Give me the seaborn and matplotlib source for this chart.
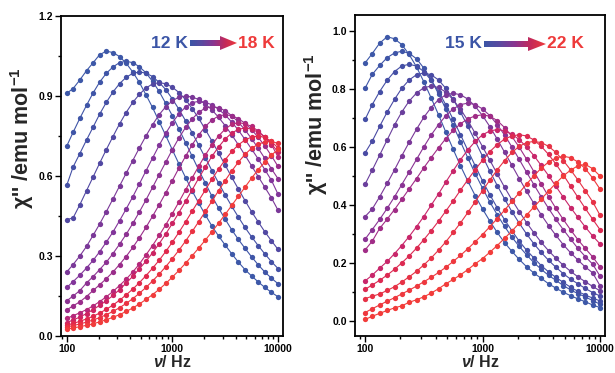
import numpy as np
import pandas as pd
import matplotlib
matplotlib.use("Agg")
import matplotlib.pyplot as plt
import seaborn as sns
from matplotlib.ticker import FixedLocator, FixedFormatter, MultipleLocator, LogLocator, NullFormatter, FormatStrFormatter
from matplotlib.patches import Polygon
from matplotlib.colors import LinearSegmentedColormap

sns.set_style("ticks")
plt.rcParams['font.family'] = ['Liberation Sans', 'DejaVu Sans']
plt.rcParams['font.weight'] = 'bold'
plt.rcParams['axes.labelweight'] = 'bold'
plt.rcParams['mathtext.fontset'] = 'custom'
plt.rcParams['mathtext.rm'] = 'Liberation Sans:bold'
plt.rcParams['mathtext.bf'] = 'Liberation Sans:bold'
plt.rcParams['mathtext.it'] = 'Liberation Sans:italic:bold'
plt.rcParams['mathtext.default'] = 'bf'

# frequencies (Hz)
freq = [100, 115, 133, 154, 178, 205, 237, 274, 316, 365, 422, 487, 562, 649, 750, 866,
        1000, 1155, 1334, 1540, 1778, 2054, 2371, 2738, 3162, 3652, 4217, 4870, 5623,
        6494, 7499, 8660, 10000]

# left panel: 12 K -> 18 K
temps_left = ["12 K", "12.5 K", "13 K", "13.5 K", "14 K", "14.5 K", "15 K", "15.5 K",
              "16 K", "16.5 K", "17 K", "17.5 K", "18 K"]
L1 = [.910, .928, .960, .995, 1.025, 1.055, 1.068, 1.063, 1.048, 1.023, .990, .951, .905, .857, .804, .752, .698,
      .645, .594, .544, .498, .454, .412, .375, .341, .308, .277, .249, .225, .203, .182, .164, .147]
L2 = [.712, .764, .816, .865, .912, .952, .985, 1.009, 1.025, 1.030, 1.025, 1.010, .987, .955, .917, .872, .826,
      .776, .725, .674, .622, .573, .524, .480, .438, .398, .362, .329, .297, .267, .240, .217, .196]
L3 = [.565, .634, .684, .735, .784, .832, .876, .915, .946, .970, .985, .990, .986, .973, .951, .924, .889,
      .850, .807, .762, .715, .668, .620, .574, .529, .486, .446, .407, .372, .339, .308, .279, .253]
L4 = [.436, .443, .492, .545, .597, .648, .699, .748, .795, .838, .876, .906, .930, .945, .950, .946, .933,
      .913, .886, .853, .816, .774, .731, .686, .641, .595, .551, .508, .466, .428, .391, .357, .325]
L5 = [.240, .268, .300, .336, .378, .420, .466, .514, .562, .610, .658, .705, .750, .792, .830, .860, .882,
      .896, .900, .896, .887, .869, .848, .820, .789, .754, .717, .678, .638, .598, .558, .518, .472]
L6 = [.182, .204, .228, .255, .284, .316, .352, .390, .432, .476, .522, .570, .619, .667, .715, .760, .800,
      .833, .859, .875, .880, .876, .867, .850, .829, .802, .772, .737, .701, .664, .624, .584, .532]
L7 = [.132, .150, .170, .199, .223, .249, .277, .309, .344, .381, .422, .465, .510, .557, .605, .652, .699,
      .743, .782, .814, .839, .855, .860, .856, .845, .826, .802, .773, .740, .704, .666, .627, .590]
L8 = [.098, .113, .128, .148, .171, .192, .215, .240, .268, .298, .332, .368, .407, .449, .492, .537, .583,
      .630, .674, .717, .754, .786, .810, .825, .830, .826, .815, .798, .774, .745, .713, .676, .636]
L9 = [.066, .076, .087, .099, .113, .129, .147, .167, .189, .213, .240, .270, .304, .339, .377, .417, .459,
      .503, .548, .593, .637, .679, .717, .750, .776, .794, .800, .796, .786, .769, .746, .718, .672]
L10 = [.050, .060, .071, .084, .099, .115, .132, .152, .174, .198, .224, .252, .280, .312, .346, .383, .422,
       .463, .505, .548, .592, .634, .674, .709, .739, .761, .775, .780, .776, .764, .746, .721, .690]
L11 = [.040, .047, .055, .064, .074, .086, .100, .116, .134, .154, .176, .200, .226, .254, .284, .317, .352,
       .389, .428, .468, .508, .548, .588, .626, .661, .692, .717, .735, .746, .750, .745, .730, .705]
L12 = [.034, .039, .045, .052, .060, .069, .080, .092, .106, .122, .140, .160, .182, .206, .232, .260, .290,
       .322, .356, .392, .429, .467, .506, .545, .583, .619, .652, .681, .704, .719, .728, .730, .722]
L13 = [.026, .030, .035, .040, .046, .053, .061, .070, .080, .092, .105, .120, .137, .155, .175, .197, .221,
       .246, .273, .301, .330, .360, .391, .423, .456, .490, .524, .558, .592, .624, .652, .678, .700]

# right panel: 15 K -> 22 K
temps_right = ["15 K", "15.5 K", "16 K", "16.5 K", "17 K", "17.5 K", "18 K", "18.5 K",
               "19 K", "20 K", "20.5 K", "21 K", "22 K"]
R1 = [.890, .922, .958, .980, .973, .953, .919, .876, .825, .769, .711, .651, .592, .535, .482, .432, .386,
      .344, .305, .270, .240, .212, .187, .165, .147, .128, .113, .099, .087, .076, .066, .055, .046]
R2 = [.803, .850, .881, .908, .924, .930, .923, .904, .872, .831, .783, .730, .674, .618, .562, .508, .458,
      .410, .366, .326, .289, .257, .228, .201, .178, .157, .140, .122, .107, .094, .083, .070, .058]
R3 = [.695, .746, .791, .830, .860, .879, .885, .879, .860, .830, .791, .745, .695, .642, .588, .535, .483,
      .435, .390, .349, .311, .275, .244, .217, .191, .169, .150, .133, .116, .102, .089, .079, .069]
R4 = [.580, .620, .671, .720, .764, .802, .831, .849, .855, .849, .831, .802, .764, .720, .671, .620, .568,
      .516, .467, .421, .377, .337, .300, .266, .236, .209, .185, .163, .144, .128, .112, .098, .086]
R5 = [.472, .520, .572, .624, .676, .720, .758, .786, .804, .810, .805, .789, .763, .730, .691, .647, .601,
      .554, .507, .461, .418, .377, .339, .304, .271, .242, .216, .192, .171, .152, .135, .119, .104]
R6 = [.360, .386, .428, .474, .521, .569, .616, .661, .702, .736, .763, .780, .785, .780, .765, .740, .708,
      .670, .627, .582, .537, .491, .447, .405, .366, .329, .295, .263, .235, .210, .186, .166, .122]
R7 = [.282, .315, .350, .388, .428, .470, .513, .557, .600, .641, .677, .708, .731, .746, .751, .746, .731,
      .708, .677, .641, .600, .557, .513, .470, .428, .388, .350, .315, .282, .250, .222, .196, .155]
R8 = [.245, .275, .319, .351, .384, .419, .455, .491, .528, .563, .597, .629, .657, .680, .697, .707, .711,
      .706, .691, .667, .636, .599, .558, .515, .472, .429, .388, .350, .314, .280, .250, .221, .187]
R9 = [.138, .158, .182, .205, .232, .260, .291, .325, .360, .399, .438, .479, .518, .556, .590, .619, .642,
      .655, .660, .656, .644, .625, .600, .570, .536, .501, .464, .427, .391, .357, .324, .293, .266]
R10 = [.109, .124, .140, .158, .178, .200, .224, .251, .280, .311, .344, .379, .414, .451, .487, .522, .554,
       .584, .608, .627, .638, .642, .638, .624, .602, .574, .541, .504, .465, .426, .388, .351, .315]
R11 = [.077, .085, .093, .105, .118, .134, .152, .171, .193, .217, .244, .273, .305, .338, .374, .411, .449,
       .486, .521, .553, .581, .602, .615, .619, .615, .602, .581, .553, .521, .486, .449, .411, .365]
R12 = [.029, .042, .055, .068, .080, .093, .106, .120, .135, .150, .167, .185, .205, .226, .249, .273, .298,
       .325, .353, .382, .412, .442, .472, .500, .527, .548, .562, .568, .563, .548, .525, .493, .455]
R13 = [.005, .016, .026, .036, .045, .052, .064, .073, .083, .096, .111, .128, .143, .159, .177, .197, .215,
       .237, .260, .285, .310, .337, .365, .393, .420, .448, .475, .500, .520, .535, .540, .525, .500]

left_curves = [L1, L2, L3, L4, L5, L6, L7, L8, L9, L10, L11, L12, L13]
right_curves = [R1, R2, R3, R4, R5, R6, R7, R8, R9, R10, R11, R12, R13]

BLUE = "#3b55a6"
RED = "#ee3a3a"
pal_left = ["#3d58a8", "#3f55a7", "#4450a5", "#5148a2", "#7a3898", "#82359a", "#8c3292",
            "#9a2d8a", "#b5287a", "#cc2462", "#e0284c", "#ea3242", "#f03c3c"]
pal_right = ["#3d58a8", "#3f55a7", "#444fa5", "#4a4ba4", "#6a3f9c", "#7a3898", "#8a3394",
             "#a02c86", "#c8266a", "#dc2a52", "#e63246", "#ee383e", "#f23c3a"]

W, H = 615, 373
fig = plt.figure(figsize=(W / 100, H / 100), dpi=100)


def long_df(curves, temps):
    rows = []
    for t, vals in zip(temps, curves):
        for f, v in zip(freq, vals):
            rows.append((t, f, v))
    return pd.DataFrame(rows, columns=["T", "freq", "chi"])


def panel(rect, curves, temps, pal, ylim, ymajor, yminor, xlim, ylab_xy):
    ax = fig.add_axes([rect[0] / W, rect[1] / H, rect[2] / W, rect[3] / H])
    df = long_df(curves, temps)
    sns.lineplot(data=df, x="freq", y="chi", hue="T", palette=pal, ax=ax,
                 marker="o", markersize=3.8, markeredgewidth=0, linewidth=0.8,
                 legend=False, sort=False, errorbar=None)
    ax.set_xscale("log")
    ax.set_xlim(*xlim)
    ax.set_ylim(*ylim)
    ax.xaxis.set_major_locator(FixedLocator([100, 1000, 10000]))
    ax.xaxis.set_major_formatter(FixedFormatter(["100", "1000", "10000"]))
    ax.xaxis.set_minor_locator(LogLocator(base=10, subs=np.arange(2, 10)))
    ax.xaxis.set_minor_formatter(NullFormatter())
    ax.yaxis.set_major_locator(MultipleLocator(ymajor))
    ax.yaxis.set_minor_locator(MultipleLocator(yminor))
    ax.yaxis.set_major_formatter(FormatStrFormatter("%.1f"))
    for s in ax.spines.values():
        s.set_linewidth(1.3)
        s.set_color("black")
    ax.tick_params(which="both", direction="out", width=1, colors="black",
                   labelsize=7.5, top=False, right=False)
    ax.tick_params(which="major", length=4, pad=2)
    ax.tick_params(which="minor", length=2.5)
    for lab in ax.get_xticklabels() + ax.get_yticklabels():
        lab.set_fontweight("bold")
    ax.set_xlabel(r"$\mathit{\nu}$/ Hz", fontsize=11.5, labelpad=0)
    ax.set_ylabel(r"$\chi$'' /emu mol$^{-1}$", fontsize=15.5)
    ax.yaxis.set_label_coords(*ylab_xy)
    return ax


ax1 = panel((61, 37, 222, 320), left_curves, temps_left, pal_left, (0, 1.2), 0.3, 0.15,
            (88.3, 11150), (-0.112, 0.62))
ax2 = panel((355, 37, 250, 321), right_curves, temps_right, pal_right, (-0.052, 1.055), 0.2, 0.1,
            (82, 11040), (-0.1, 0.66))

arrow_cmap = LinearSegmentedColormap.from_list("arr", [BLUE, "#5a4aa0", "#8a3590", "#c42a5a", RED])


def grad_arrow(x0, x1, yc, shaft_h, head_h, head_l):
    # arrow placed in figure pixels, filled with a blue->red gradient
    aax = fig.add_axes([x0 / W, (H - yc - head_h / 2) / H, (x1 - x0) / W, head_h / H])
    aax.set_xlim(0, 1)
    aax.set_ylim(0, 1)
    aax.axis("off")
    hl = head_l / (x1 - x0)
    sh = shaft_h / head_h
    pts = [(0, 0.5 - sh / 2), (1 - hl, 0.5 - sh / 2), (1 - hl, 0), (1, 0.5),
           (1 - hl, 1), (1 - hl, 0.5 + sh / 2), (0, 0.5 + sh / 2)]
    poly = Polygon(pts, closed=True, facecolor="none", edgecolor="none", transform=aax.transData)
    aax.add_patch(poly)
    im = aax.imshow(np.linspace(0, 1, 256)[None, :], cmap=arrow_cmap, extent=[0, 1, 0, 1],
                    aspect="auto", interpolation="bilinear")
    im.set_clip_path(poly)


fs = 12.5
fig.text(188 / W, (H - 43) / H, "12 K", color=BLUE, fontsize=fs, fontweight="bold", ha="right", va="center")
grad_arrow(190, 237, 43, 6, 14, 17)
fig.text(238 / W, (H - 43) / H, "18 K", color=RED, fontsize=fs, fontweight="bold", ha="left", va="center")

fig.text(482 / W, (H - 44) / H, "15 K", color=BLUE, fontsize=fs, fontweight="bold", ha="right", va="center")
grad_arrow(484, 546, 44, 6, 14, 18)
fig.text(547 / W, (H - 44) / H, "22 K", color=RED, fontsize=fs, fontweight="bold", ha="left", va="center")

fig.savefig("out.png", dpi=100)
